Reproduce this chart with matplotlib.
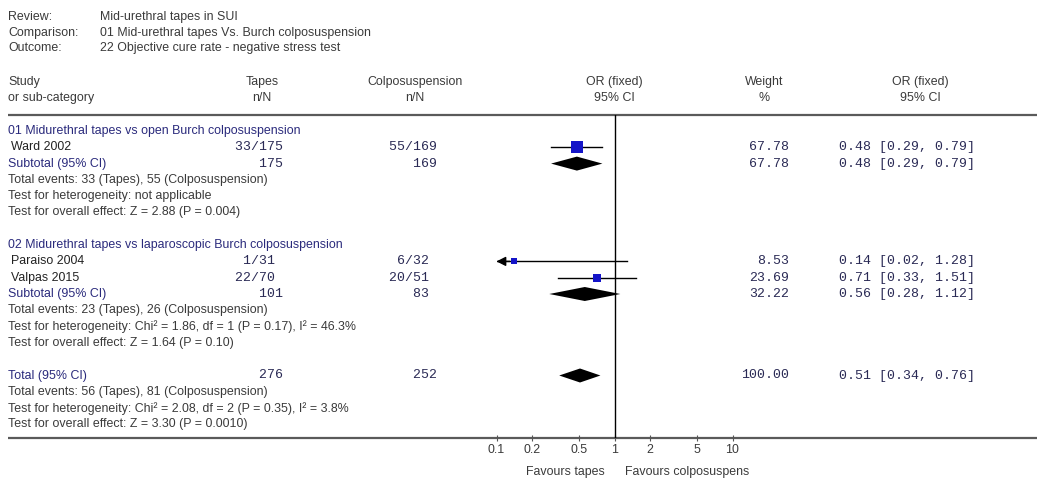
import numpy as np
import matplotlib
matplotlib.use('Agg')
import matplotlib.pyplot as plt
from matplotlib.ticker import NullLocator

W,H=1037,479

# header info
review_labels=['Review:','Comparison:','Outcome:']
review_texts=['Mid-urethral tapes in SUI','01 Mid-urethral tapes Vs. Burch colposuspension','22 Objective cure rate - negative stress test']

# studies
studies=['Ward 2002','Paraiso 2004','Valpas 2015']
study_group=[0,1,1]
tapes_n=[33,1,22]
tapes_N=[175,31,70]
colpo_n=[55,6,20]
colpo_N=[169,32,51]
weights=[67.78,8.53,23.69]
or_est=[0.48,0.14,0.71]
or_lo=[0.29,0.02,0.33]
or_hi=[0.79,1.28,1.51]

# subgroups
group_names=['01 Midurethral tapes vs open Burch colposuspension','02 Midurethral tapes vs laparoscopic Burch colposuspension']
sub_tapes_N=[175,101]
sub_colpo_N=[169,83]
sub_weights=[67.78,32.22]
sub_or=[0.48,0.56]
sub_lo=[0.29,0.28]
sub_hi=[0.79,1.12]
sub_notes=[['Total events: 33 (Tapes), 55 (Colposuspension)',
            'Test for heterogeneity: not applicable',
            'Test for overall effect: Z = 2.88 (P = 0.004)'],
           ['Total events: 23 (Tapes), 26 (Colposuspension)',
            'Test for heterogeneity: Chi\u00b2 = 1.86, df = 1 (P = 0.17), I\u00b2 = 46.3%',
            'Test for overall effect: Z = 1.64 (P = 0.10)']]

# overall
tot_tapes_N=276
tot_colpo_N=252
tot_weight=100.00
tot_or,tot_lo,tot_hi=0.51,0.34,0.76
tot_notes=['Total events: 56 (Tapes), 81 (Colposuspension)',
           'Test for heterogeneity: Chi\u00b2 = 2.08, df = 2 (P = 0.35), I\u00b2 = 3.8%',
           'Test for overall effect: Z = 3.30 (P = 0.0010)']

ticks=[0.1,0.2,0.5,1,2,5,10]
tick_labels=['0.1','0.2','0.5','1','2','5','10']

# layout
sans='Liberation Sans'
mono='Liberation Mono'
fs=8.9
fm=9.5
c_txt='#3a3a3a'
c_blue='#2a2a7c'
c_num='#2a2a55'
row0,dy=131,16.3
top_line,bot_line=115,438
x_tapes,x_colpo,x_w,x_or=227,381,789,839
def ry(k): return row0+dy*k

fig=plt.figure(figsize=(W/100.,H/100.),dpi=100)
tax=fig.add_axes([0,0,1,1])
tax.set_xlim(0,W); tax.set_ylim(H,0); tax.axis('off')

for i,(l,t) in enumerate(zip(review_labels,review_texts)):
  tax.text(8,17+15.5*i,l,family=sans,size=fs,color=c_txt,va='center')
  tax.text(100,17+15.5*i,t,family=sans,size=fs,color=c_txt,va='center')

hdr=[(8,'Study','or sub-category','left'),(262,'Tapes','n/N','center'),(415,'Colposuspension','n/N','center'),
     (614,'OR (fixed)','95% CI','center'),(764,'Weight','%','center'),(920,'OR (fixed)','95% CI','center')]
for x,a,b,ha in hdr:
  tax.text(x,82,a,family=sans,size=fs,color=c_txt,va='center',ha=ha)
  tax.text(x,98,b,family=sans,size=fs,color=c_txt,va='center',ha=ha)

for yy in [top_line,bot_line]:
  tax.plot([8,W],[yy,yy],color='#5a5a5a',lw=1.6,solid_capstyle='butt')

fax=fig.add_axes([496.5/W,(H-bot_line)/float(H),236./W,(bot_line-top_line)/float(H)])
fax.set_xscale('log'); fax.set_xlim(0.1,10); fax.set_ylim(bot_line,top_line)
for s in fax.spines.values(): s.set_visible(False)
fax.patch.set_alpha(0)
fax.set_xticks(ticks); fax.set_xticklabels(tick_labels,family=sans)
fax.xaxis.set_minor_locator(NullLocator())
fax.set_yticks([])
fax.tick_params(axis='x',direction='inout',length=5,width=0.8,pad=2,labelsize=fs,labelcolor=c_txt,color='#555555')
fax.axvline(1,color='k',lw=1)

def num(x,y,s,ha='left'):
  tax.text(x,y,s,family=mono,size=fm,color=c_num,va='center',ha=ha)

def diamond(y,o,l,h):
  hh=7
  fax.fill([l,o,h,o],[y,y-hh,y,y+hh],color='k',lw=0)

k=0
for g in range(2):
  tax.text(8,ry(k),group_names[g],family=sans,size=fs,color=c_blue,va='center')
  k+=1
  for i in range(len(studies)):
    if study_group[i]!=g: continue
    y=ry(k)
    tax.text(11,y,studies[i],family=sans,size=fs,color='#222222',va='center')
    num(x_tapes,y,'%3d/%-3d'%(tapes_n[i],tapes_N[i]))
    num(x_colpo,y,'%3d/%-3d'%(colpo_n[i],colpo_N[i]))
    num(x_w,y,'%.2f'%weights[i],ha='right')
    num(x_or,y,'%.2f [%.2f, %.2f]'%(or_est[i],or_lo[i],or_hi[i]))
    lo=max(or_lo[i],0.1)
    fax.plot([lo,or_hi[i]],[y,y],color='k',lw=1)
    if or_lo[i]<0.1:
      fax.annotate('',xy=(0.1,y),xytext=(0.13,y),
                   arrowprops=dict(arrowstyle='-|>,head_length=0.55,head_width=0.28',color='k',lw=1,shrinkA=0,shrinkB=0))
    side=3+9*np.sqrt(weights[i]/max(weights))
    fax.plot([or_est[i]],[y],marker='s',ms=side*0.72,color='#1414c8',mec='#1414c8',mew=0)
    k+=1
  y=ry(k)
  tax.text(8,y,'Subtotal (95% CI)',family=sans,size=fs,color=c_blue,va='center')
  num(x_tapes,y,'    %-3d'%sub_tapes_N[g])
  num(x_colpo,y,'    %-3d'%sub_colpo_N[g])
  num(x_w,y,'%.2f'%sub_weights[g],ha='right')
  num(x_or,y,'%.2f [%.2f, %.2f]'%(sub_or[g],sub_lo[g],sub_hi[g]))
  diamond(y,sub_or[g],sub_lo[g],sub_hi[g])
  k+=1
  for n in sub_notes[g]:
    tax.text(8,ry(k),n,family=sans,size=fs,color=c_txt,va='center')
    k+=1
  k+=1

y=ry(k)
tax.text(8,y,'Total (95% CI)',family=sans,size=fs,color=c_blue,va='center')
num(x_tapes,y,'    %-3d'%tot_tapes_N)
num(x_colpo,y,'    %-3d'%tot_colpo_N)
num(x_w,y,'%.2f'%tot_weight,ha='right')
num(x_or,y,'%.2f [%.2f, %.2f]'%(tot_or,tot_lo,tot_hi))
diamond(y,tot_or,tot_lo,tot_hi)
k+=1
for n in tot_notes:
  tax.text(8,ry(k),n,family=sans,size=fs,color=c_txt,va='center')
  k+=1

tax.text(605,472,'Favours tapes',family=sans,size=fs,color=c_txt,va='center',ha='right')
tax.text(625,472,'Favours colposuspens',family=sans,size=fs,color=c_txt,va='center',ha='left')

plt.savefig('out.png',dpi=100)
